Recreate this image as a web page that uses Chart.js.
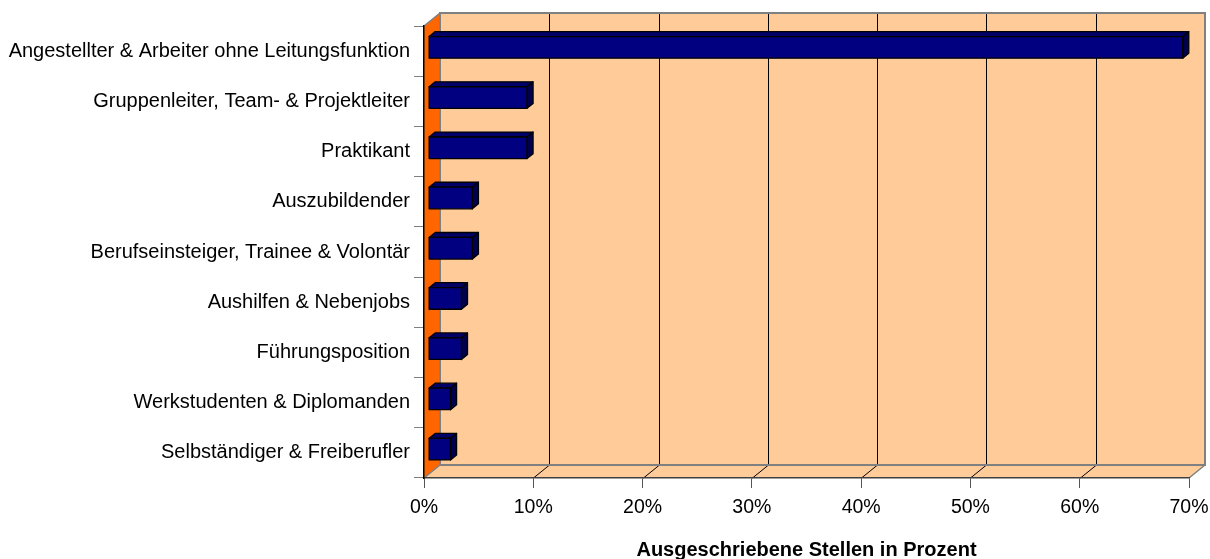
<!DOCTYPE html>
<html><head><meta charset="utf-8">
<script src="https://cdn.jsdelivr.net/npm/chart.js@4"></script>
<style>html,body{margin:0;padding:0;background:#fff}#wrap{width:1210px;height:559px;position:relative}</style>
</head><body><div id="wrap"><canvas id="c"></canvas></div>
<script>
const categories = [
  'Angestellter & Arbeiter ohne Leitungsfunktion',
  'Gruppenleiter, Team- & Projektleiter',
  'Praktikant',
  'Auszubildender',
  'Berufseinsteiger, Trainee & Volontär',
  'Aushilfen & Nebenjobs',
  'Führungsposition',
  'Werkstudenten & Diplomanden',
  'Selbständiger & Freiberufler'
];
const shares = [69, 9, 9, 4, 4, 3, 3, 2, 2];
const xTickValues = [0, 10, 20, 30, 40, 50, 60, 70];
const axisTitle = 'Ausgeschriebene Stellen in Prozent';

const DX = 16, DY = -13;

function poly(ctx, pts) {
  ctx.beginPath();
  ctx.moveTo(pts[0][0], pts[0][1]);
  for (let i = 1; i < pts.length; i++) ctx.lineTo(pts[i][0], pts[i][1]);
  ctx.closePath();
}

const walls = {
  id: 'walls',
  beforeDraw(chart) {
    const ctx = chart.ctx;
    const {left, right, top, bottom} = chart.chartArea;
    const x = chart.scales.x;
    ctx.save();
    ctx.fillStyle = '#FFCC99';
    ctx.fillRect(left + DX, top + DY, right - left, bottom - top);
    poly(ctx, [[left, bottom], [right, bottom], [right + DX, bottom + DY], [left + DX, bottom + DY]]);
    ctx.fill();
    ctx.fillStyle = '#FF6600';
    poly(ctx, [[left, top], [left + DX, top + DY], [left + DX, bottom + DY], [left, bottom]]);
    ctx.fill();
    ctx.strokeStyle = '#000';
    ctx.lineWidth = 1;
    xTickValues.forEach(v => {
      if (v === xTickValues[0] || v === xTickValues[xTickValues.length - 1]) return;
      const px = Math.round(x.getPixelForValue(v)) + 0.5;
      ctx.beginPath();
      ctx.moveTo(px + DX, top + DY);
      ctx.lineTo(px + DX, bottom + DY);
      ctx.moveTo(px, bottom);
      ctx.lineTo(px + DX, bottom + DY);
      ctx.stroke();
    });
    ctx.strokeStyle = '#808080';
    ctx.lineWidth = 2;
    ctx.strokeRect(left + DX, top + DY, right - left, bottom - top);
    ctx.lineWidth = 1.5;
    ctx.beginPath();
    ctx.moveTo(left, top); ctx.lineTo(left + DX, top + DY);
    ctx.moveTo(left, bottom); ctx.lineTo(left + DX, bottom + DY);
    ctx.moveTo(right, bottom); ctx.lineTo(right + DX, bottom + DY);
    ctx.stroke();
    ctx.restore();
  }
};

const bars3d = {
  id: 'bars3d',
  afterDatasetsDraw(chart) {
    const ctx = chart.ctx;
    const meta = chart.getDatasetMeta(0);
    const sx = DX * 0.29, sy = DY * 0.29;
    const ox = DX * 0.38, oy = DY * 0.38;
    ctx.save();
    ctx.strokeStyle = '#000';
    ctx.lineWidth = 1.3;
    ctx.lineJoin = 'round';
    meta.data.forEach(el => {
      const p = el.getProps(['x', 'y', 'base', 'height'], true);
      const x0 = Math.min(p.base, p.x) + sx, x1 = Math.max(p.base, p.x) + sx;
      const y0 = p.y - p.height / 2 + sy, y1 = p.y + p.height / 2 + sy;
      poly(ctx, [[x0, y0], [x0 + ox, y0 + oy], [x1 + ox, y0 + oy], [x1, y0]]);
      ctx.fillStyle = '#000068'; ctx.fill(); ctx.stroke();
      poly(ctx, [[x1, y0], [x1 + ox, y0 + oy], [x1 + ox, y1 + oy], [x1, y1]]);
      ctx.fillStyle = '#00004C'; ctx.fill(); ctx.stroke();
      poly(ctx, [[x0, y0], [x1, y0], [x1, y1], [x0, y1]]);
      ctx.fillStyle = '#000080'; ctx.fill(); ctx.stroke();
    });
    ctx.restore();
  }
};

new Chart(document.getElementById('c'), {
  type: 'bar',
  data: {
    labels: categories,
    datasets: [{
      data: shares,
      backgroundColor: 'rgba(0,0,0,0)',
      borderWidth: 0,
      categoryPercentage: 1,
      barPercentage: 0.43
    }]
  },
  options: {
    indexAxis: 'y',
    responsive: true,
    maintainAspectRatio: false,
    animation: false,
    layout: { padding: { top: 26, right: 21, left: 0, bottom: 0 } },
    plugins: { legend: { display: false }, tooltip: { enabled: false } },
    scales: {
      x: {
        min: 0, max: 70,
        afterFit(scale) { scale.height = 81; scale.paddingRight = 0; scale.paddingLeft = 0; },
        afterBuildTicks(scale) { scale.ticks = xTickValues.map(v => ({ value: v })); },
        ticks: {
          color: '#000',
          padding: 8,
          font: { family: '"Liberation Sans", Arial, sans-serif', size: 19.5 },
          callback: v => v + '%',
          maxRotation: 0
        },
        grid: { drawOnChartArea: false, drawTicks: true, tickLength: 10, color: '#555' },
        border: { display: true, color: '#404040', width: 1.5 },
        title: {
          display: true, text: axisTitle, color: '#000',
          font: { family: '"Liberation Sans", Arial, sans-serif', size: 20, weight: 'bold', lineHeight: 1 },
          padding: { top: 0, bottom: -1 }
        }
      },
      y: {
        afterFit(scale) { scale.width = 424; scale.paddingTop = 0; scale.paddingBottom = 0; },
        offset: true,
        ticks: {
          color: '#000',
          padding: 4,
          font: { family: '"Liberation Sans", Arial, sans-serif', size: 20 },
          autoSkip: false
        },
        grid: { offset: true, drawOnChartArea: false, drawTicks: true, tickLength: 10, color: '#808080' },
        border: { display: true, color: '#000', width: 1.5 }
      }
    }
  },
  plugins: [walls, bars3d]
});
</script>
</body></html>
